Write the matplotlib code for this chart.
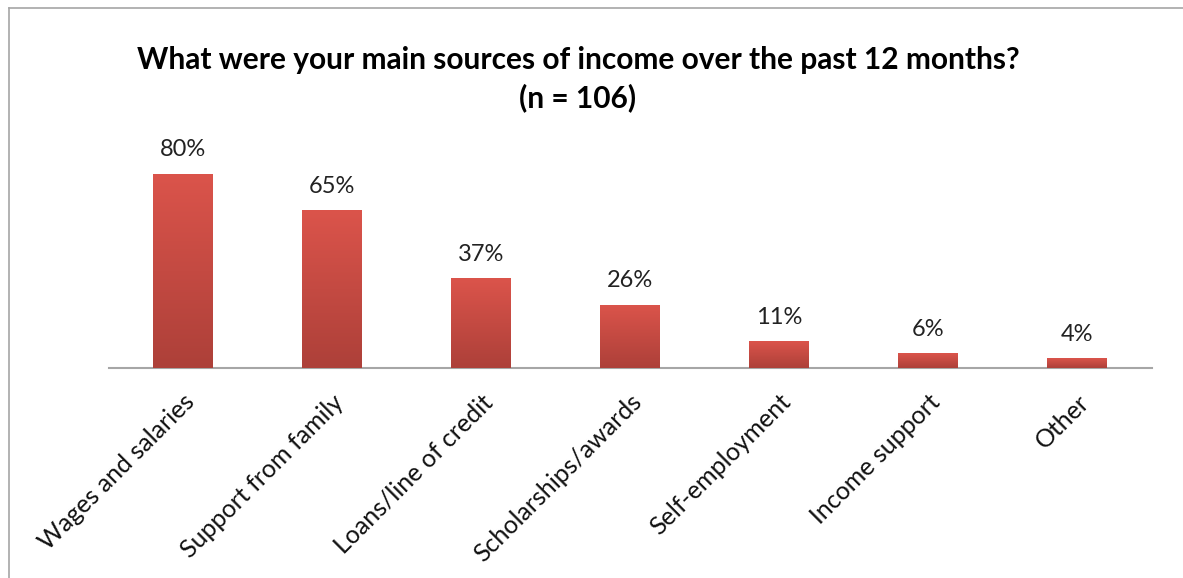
import numpy as np
import matplotlib.pyplot as plt
from matplotlib.lines import Line2D
from matplotlib.colors import LinearSegmentedColormap

plt.rcParams['font.family'] = ['Lato', 'DejaVu Sans']

categories = ["Wages and salaries", "Support from family", "Loans/line of credit",
              "Scholarships/awards", "Self-employment", "Income support", "Other"]
values = [80, 65, 37, 26, 11, 6, 4]

W, H = 1183, 578
fig = plt.figure(figsize=(W / 100, H / 100), dpi=100)
fig.patch.set_facecolor('white')

# axes placed in pixel coordinates
ax_left, ax_right, ax_top, ax_bottom = 108.5, 1151.5, 130, 368
ax = fig.add_axes([ax_left / W, 1 - ax_bottom / H,
                   (ax_right - ax_left) / W, (ax_bottom - ax_top) / H])
ymax = (ax_bottom - ax_top) / 2.43

x = np.arange(len(categories))
bars = ax.bar(x, values, width=0.4, color='#C94A42', zorder=2)

# vertical gradient on each bar
grad = LinearSegmentedColormap.from_list('bar', ['#AD4039', '#DB544B'])
gimg = np.linspace(0, 1, 256).reshape(-1, 1)
for b, v in zip(bars, values):
    bx = b.get_x()
    im = ax.imshow(gimg, cmap=grad, origin='lower', aspect='auto',
                   extent=[bx, bx + b.get_width(), 0, v], zorder=3)
    im.set_clip_path(b)
    ax.text(b.get_x() + b.get_width() / 2, v + 5.5, f"{v}%",
            ha='center', va='bottom', fontsize=17, color='#222222')

ax.set_xlim(-0.5, len(categories) - 0.5)
ax.set_ylim(0, ymax)
for s in ['top', 'right', 'left']:
    ax.spines[s].set_visible(False)
ax.spines['bottom'].set_color('#A6A6A6')
ax.spines['bottom'].set_linewidth(1.5)
ax.set_yticks([])
ax.set_xticks(x)
ax.set_xticklabels(categories, rotation=45, ha='right', va='top',
                   rotation_mode='anchor', fontsize=18, color='#111111')
ax.tick_params(axis='x', length=0, pad=16)

fig.text(578 / W, 1 - 60 / H, "What were your main sources of income over the past 12 months?",
         ha='center', va='center', fontsize=21.5, fontweight='bold')
fig.text(578 / W, 1 - 98 / H, "(n = 106)",
         ha='center', va='center', fontsize=21.5, fontweight='bold')

# outer chart frame
fig.add_artist(Line2D([9 / W, 9 / W], [0, 1 - 8 / H], color='#A6A6A6', lw=1.2))
fig.add_artist(Line2D([9 / W, 1], [1 - 8 / H, 1 - 8 / H], color='#A6A6A6', lw=1.2))

fig.savefig('out.png', dpi=100, facecolor='white')
